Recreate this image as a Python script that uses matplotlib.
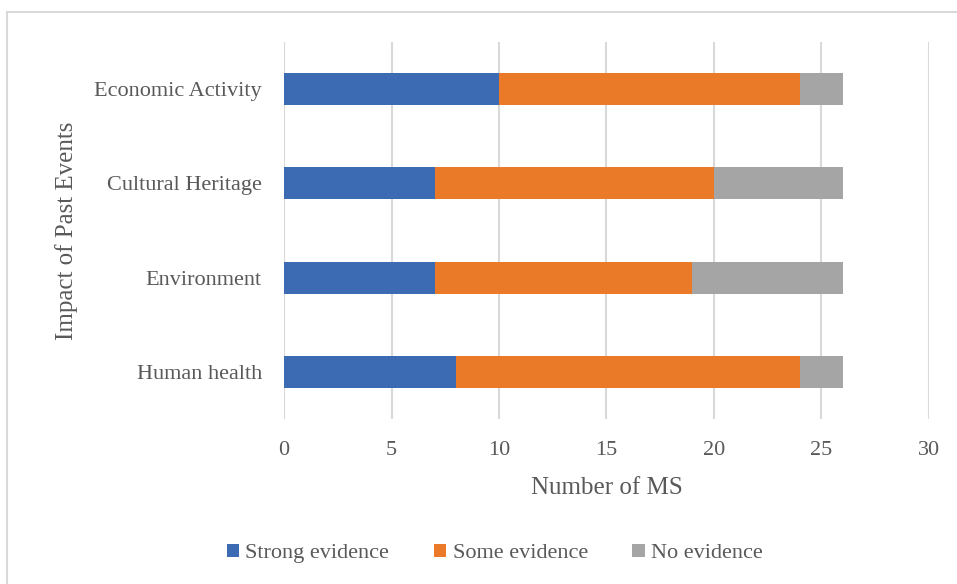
import matplotlib.pyplot as plt
from matplotlib.patches import Rectangle

categories = ['Human health', 'Environment', 'Cultural Heritage', 'Economic Activity']
strong = [8, 7, 7, 10]
some = [16, 12, 13, 14]
none_ = [2, 7, 6, 2]

plt.rcParams['font.family'] = ['Liberation Serif', 'DejaVu Serif']
txt = '#595959'

fig = plt.figure(figsize=(9.57, 5.84), dpi=100)
ax = fig.add_axes([0.2968, 0.2825, 0.6739, 0.6455])

h = 0.34
ax.barh(categories, strong, height=h, color='#3D6BB3', label='Strong evidence', zorder=3)
left2 = strong
ax.barh(categories, some, height=h, left=left2, color='#EA7A27', label='Some evidence', zorder=3)
left3 = [a + b for a, b in zip(strong, some)]
ax.barh(categories, none_, height=h, left=left3, color='#A5A5A5', label='No evidence', zorder=3)

ax.set_xlim(0, 30)
ax.set_ylim(-0.5, 3.5)
ax.set_xticks(range(0, 31, 5))
ax.grid(axis='x', color='#D9D9D9', linewidth=1.5, zorder=0)
for s in ax.spines.values():
    s.set_visible(False)
ax.tick_params(length=0, labelsize=16, colors=txt)
ax.tick_params(axis='x', pad=16)
ax.tick_params(axis='y', pad=16)
ax.set_xlabel('Number of MS', fontsize=18, color=txt, labelpad=12)
ax.set_ylabel('Impact of Past Events', fontsize=18, color=txt, labelpad=12)

fig.legend(loc='center', bbox_to_anchor=(0.517, 0.052), ncol=3, frameon=False,
           fontsize=16, labelcolor=txt, handlelength=0.55, handleheight=0.55,
           handletextpad=0.3, columnspacing=2.0)

fig.patches.append(Rectangle((7 / 957, -0.1), 1.2, 1 - 12 / 584 + 0.1,
                             transform=fig.transFigure, fill=False,
                             edgecolor='#D9D9D9', linewidth=1.5))

fig.savefig('out.png', dpi=100)
